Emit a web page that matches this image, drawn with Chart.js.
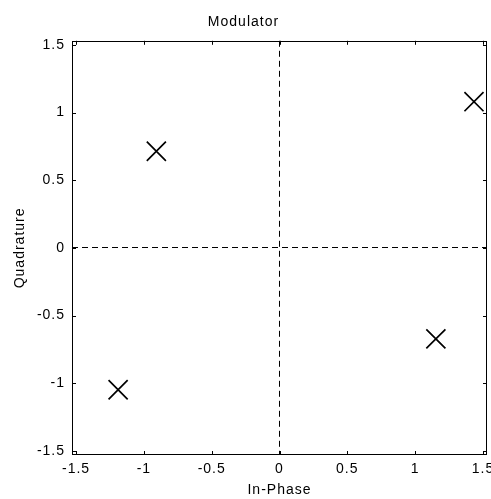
<!DOCTYPE html>
<html>
<head>
<meta charset="utf-8">
<script src="https://cdn.jsdelivr.net/npm/chart.js@4/dist/chart.umd.min.js"></script>
<style>
html,body{margin:0;padding:0;background:#fff;overflow:hidden;}
#wrap{width:491px;height:499px;}
</style>
</head>
<body>
<div id="wrap"><canvas id="c" width="491" height="499"></canvas></div>
<script>
const inPhase = [1.434, -0.908, -1.19, 1.153];
const quadrature = [1.08, 0.714, -1.048, -0.672];
const tickValues = [-1.5, -1, -0.5, 0, 0.5, 1, 1.5];
const axisMin = -1.53, axisMax = 1.53;

const points = inPhase.map((x, i) => ({x: x, y: quadrature[i]}));
const FONT = 'Liberation Sans, Arial, sans-serif';
const FS = 14;

const spacing = {
  id: 'spacing',
  beforeUpdate(chart) { try { chart.ctx.letterSpacing = '1px'; } catch (e) {} },
  beforeDraw(chart) { try { chart.ctx.letterSpacing = '1px'; } catch (e) {} }
};

const boxTicks = {
  id: 'boxTicks',
  afterDraw(chart) {
    const {ctx, chartArea: a, scales} = chart;
    ctx.save();
    ctx.strokeStyle = '#000';
    ctx.lineWidth = 1;
    const L = 4;
    scales.x.ticks.forEach(t => {
      const px = Math.round(scales.x.getPixelForValue(t.value)) + 0.5;
      ctx.beginPath();
      ctx.moveTo(px, a.bottom); ctx.lineTo(px, a.bottom - L);
      ctx.moveTo(px, a.top); ctx.lineTo(px, a.top + L);
      ctx.stroke();
    });
    scales.y.ticks.forEach(t => {
      const py = Math.round(scales.y.getPixelForValue(t.value)) + 0.5;
      ctx.beginPath();
      ctx.moveTo(a.left, py); ctx.lineTo(a.left + L, py);
      ctx.moveTo(a.right, py); ctx.lineTo(a.right - L, py);
      ctx.stroke();
    });
    ctx.strokeRect(Math.round(a.left) + 0.5, Math.round(a.top) + 0.5,
                   Math.round(a.right - a.left) - 1, Math.round(a.bottom - a.top) - 1);
    ctx.restore();
  }
};

const zeroGrid = (ctx) => (ctx.tick && Math.abs(ctx.tick.value) < 1e-9) ? '#000' : 'rgba(0,0,0,0)';

new Chart(document.getElementById('c'), {
  type: 'scatter',
  data: {
    datasets: [{
      data: points,
      pointStyle: 'crossRot',
      pointRadius: 13.5,
      pointHoverRadius: 13.5,
      borderColor: '#000',
      backgroundColor: '#000',
      pointBorderWidth: 1.7,
      borderWidth: 1.7
    }]
  },
  options: {
    responsive: false,
    animation: false,
    events: [],
    layout: {autoPadding: false, padding: {left: 0, right: 4, top: 0, bottom: 0}},
    plugins: {
      legend: {display: false},
      tooltip: {enabled: false},
      title: {
        display: true,
        text: 'Modulator',
        color: '#000',
        font: {family: FONT, size: FS, weight: 'normal'},
        padding: {top: 14, bottom: 10}
      }
    },
    scales: {
      x: {
        type: 'linear',
        min: axisMin, max: axisMax,
        afterBuildTicks: (s) => { s.ticks = tickValues.map(v => ({value: v})); },
        afterFit: (s) => { s.height = 44; s.paddingLeft = 0; s.paddingRight = 0; },
        ticks: {
          color: '#000',
          font: {family: FONT, size: FS},
          padding: 6,
          maxRotation: 0,
          autoSkip: false,
          callback: (v) => String(v)
        },
        grid: {color: zeroGrid, lineWidth: 1, drawTicks: false},
        border: {display: false, dash: [6, 4]},
        title: {
          display: true, text: 'In-Phase', color: '#000',
          font: {family: FONT, size: FS}, padding: {top: 0, bottom: 0}
        }
      },
      y: {
        type: 'linear',
        min: axisMin, max: axisMax,
        afterBuildTicks: (s) => { s.ticks = tickValues.map(v => ({value: v})); },
        afterFit: (s) => { s.width = 72; s.paddingTop = 0; s.paddingBottom = 0; },
        ticks: {
          color: '#000',
          font: {family: FONT, size: FS},
          padding: 7,
          autoSkip: false,
          callback: (v) => String(v)
        },
        grid: {color: zeroGrid, lineWidth: 1, drawTicks: false},
        border: {display: false, dash: [6, 4]},
        title: {
          display: true, text: 'Quadrature', color: '#000',
          font: {family: FONT, size: FS}, padding: {top: 12, bottom: 0}
        }
      }
    }
  },
  plugins: [spacing, boxTicks]
});
</script>
</body>
</html>
